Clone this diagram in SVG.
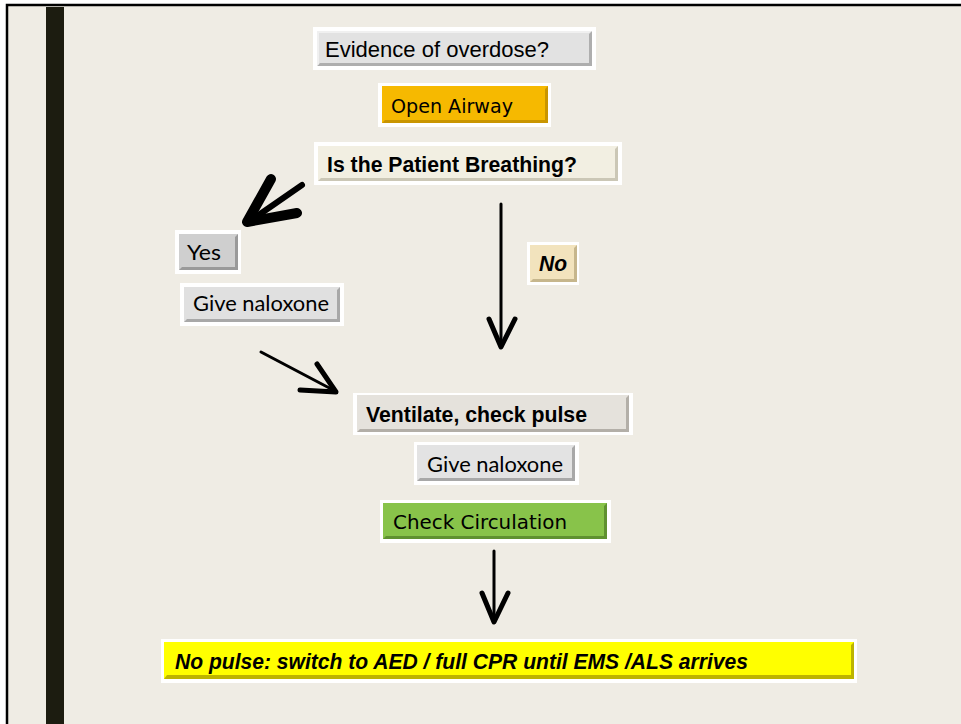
<svg xmlns="http://www.w3.org/2000/svg" width="961" height="724" viewBox="0 0 961 724">
<style>
.frame{fill:#ffffff}
.txt{font-family:"Liberation Sans",Arial,sans-serif;font-size:21.5px;fill:#000}
.tah{font-family:"DejaVu Sans","Liberation Sans",sans-serif;font-size:20px;fill:#000}
.cal{font-family:"Lato","Open Sans",sans-serif;font-size:21.5px;fill:#000}
.bold{font-family:"Liberation Sans",Arial,sans-serif;font-weight:bold;font-size:22px;fill:#000}
.bi{font-family:"Liberation Sans",Arial,sans-serif;font-weight:bold;font-style:italic;font-size:22px;fill:#000}
.conn{fill:none;stroke:#000;stroke-linecap:round;stroke-linejoin:round}
</style>
<rect x="0" y="0" width="961" height="724" fill="#ffffff"/>
<rect x="7" y="5" width="960" height="730" fill="#efece4" stroke="#000" stroke-width="2.5"/>
<rect x="46" y="7" width="18" height="720" fill="#1c1c10"/>

<g id="n-evidence">
<rect x="313" y="27" width="283" height="43" class="frame"/>
<rect x="317" y="31" width="275" height="35" fill="#e2e2e2"/>
<polygon points="317,66 592,66 592,31 589,34 589,63 320,63" fill="#aeaeae"/>
<polygon points="317,31 592,31 589,33 319,33 319,64 317,66" fill="#f0f0f0"/>
<text x="325" y="57" class="txt" textLength="224" lengthAdjust="spacingAndGlyphs">Evidence of overdose?</text>
</g>

<g id="n-airway">
<rect x="378" y="83" width="173" height="44" class="frame"/>
<rect x="382" y="86" width="166" height="37" fill="#f6b900"/>
<polygon points="382,123 548,123 548,86 545,89 545,120 385,120" fill="#c99500"/>
<text x="391" y="113" class="tah" textLength="122" lengthAdjust="spacingAndGlyphs">Open Airway</text>
</g>

<g id="n-breathing">
<rect x="314" y="142" width="308" height="43" class="frame"/>
<rect x="318" y="146" width="300" height="35" fill="#f2efe2"/>
<polygon points="318,181 618,181 618,146 615,149 615,178 321,178" fill="#cbc7b6"/>
<text x="327" y="172" class="bold" textLength="250" lengthAdjust="spacingAndGlyphs">Is the Patient Breathing?</text>
</g>

<g id="n-yes">
<rect x="175" y="230" width="66" height="44" class="frame"/>
<rect x="179" y="234" width="59" height="36" fill="#cfcfcf"/>
<polygon points="179,270 238,270 238,234 235,237 235,267 182,267" fill="#9a9a9a"/>
<text x="187" y="260" class="cal" textLength="34" lengthAdjust="spacingAndGlyphs">Yes</text>
</g>

<g id="n-naloxone1">
<rect x="180" y="283" width="164" height="43" class="frame"/>
<rect x="184" y="287" width="156" height="35" fill="#e0e0e0"/>
<polygon points="184,322 340,322 340,287 337,290 337,319 187,319" fill="#a8a8a8"/>
<text x="193" y="311" class="cal" textLength="136" lengthAdjust="spacingAndGlyphs">Give naloxone</text>
</g>

<g id="n-no">
<rect x="527" y="242" width="52" height="43" class="frame"/>
<rect x="530" y="245" width="47" height="37" fill="#f2e3bd"/>
<polygon points="530,282 577,282 577,245 574,248 574,279 533,279" fill="#c6b68c"/>
<text x="539" y="271" class="bi" textLength="28" lengthAdjust="spacingAndGlyphs">No</text>
</g>

<g id="n-ventilate">
<rect x="353" y="393" width="280" height="42" class="frame"/>
<rect x="357" y="395" width="272" height="37" fill="#e5e2dc"/>
<polygon points="357,432 629,432 629,395 626,398 626,429 360,429" fill="#b3afa8"/>
<text x="366" y="422" class="bold" textLength="221" lengthAdjust="spacingAndGlyphs">Ventilate, check pulse</text>
</g>

<g id="n-naloxone2">
<rect x="414" y="442" width="165" height="43" class="frame"/>
<rect x="417" y="445" width="158" height="36" fill="#e3e3e3"/>
<polygon points="417,481 575,481 575,445 572,448 572,478 420,478" fill="#a8a8a8"/>
<text x="427" y="472" class="cal" textLength="136" lengthAdjust="spacingAndGlyphs">Give naloxone</text>
</g>

<g id="n-circulation">
<rect x="380" y="500" width="231" height="43" class="frame"/>
<rect x="383" y="503" width="224" height="36" fill="#88c34a"/>
<polygon points="383,539 607,539 607,503 604,506 604,536 386,536" fill="#5f9130"/>
<text x="393" y="529" class="tah" textLength="174" lengthAdjust="spacingAndGlyphs">Check Circulation</text>
</g>

<g id="n-nopulse">
<rect x="161" y="639" width="696" height="44" class="frame"/>
<rect x="164" y="642" width="690" height="37" fill="#ffff00"/>
<polygon points="164,679 854,679 854,642 851,645 851,675 167,675" fill="#bdb400"/>
<text x="175" y="669" class="bi" textLength="573" lengthAdjust="spacingAndGlyphs">No pulse: switch to AED / full CPR until EMS /ALS arrives</text>
</g>

<g id="connectors">
<path class="conn" d="M302,185 L250,221" stroke-width="6"/>
<path class="conn" d="M271,179 L247,222 L297,213" stroke-width="10"/>
<path class="conn" d="M261,352 L335,391" stroke-width="3"/>
<path class="conn" d="M300,390 L336,392 L317,364" stroke-width="5"/>
<path class="conn" d="M501,204 L501,346" stroke-width="3"/>
<path class="conn" d="M489,319 L501,347 L515,319" stroke-width="5"/>
<path class="conn" d="M494,551 L494,621" stroke-width="3"/>
<path class="conn" d="M482,593 L494,622 L508,593" stroke-width="5"/>
</g>
</svg>
